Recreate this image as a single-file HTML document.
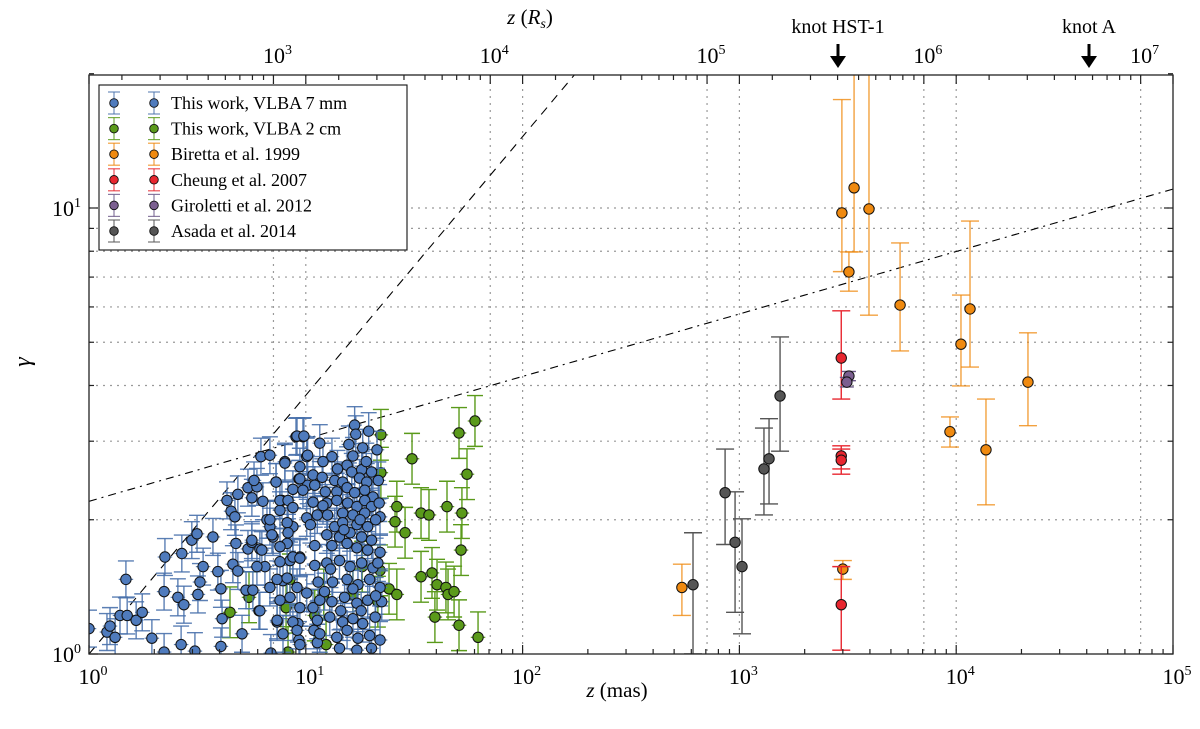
<!DOCTYPE html>
<html><head><meta charset="utf-8"><style>
html,body{margin:0;padding:0;background:#fff}
svg{display:block;font-family:"Liberation Serif",serif}
</style></head><body>
<svg id="chart" width="1200" height="729" viewBox="0 0 1200 729">
<defs><clipPath id="plotclip"><rect x="89" y="75" width="1084" height="579"/></clipPath></defs>
<g id="grid"></g>
<g id="lines" clip-path="url(#plotclip)"></g>
<g id="series" clip-path="url(#plotclip)"></g>
<rect x="89" y="75" width="1084" height="579" fill="none" stroke="#222" stroke-width="1.3"/>
<g id="axes"></g>
<text x="617" y="697" font-size="21" text-anchor="middle"><tspan font-style="italic">z</tspan> (mas)</text>
<text x="530" y="24" font-size="21" text-anchor="middle"><tspan font-style="italic">z</tspan> (<tspan font-style="italic">R</tspan><tspan font-style="italic" font-size="14" dy="4">s</tspan><tspan dy="-4">)</tspan></text>
<text x="30" y="362" font-size="24" font-style="italic" text-anchor="middle" transform="rotate(-90 30 362)">γ</text>
<g>
<text x="838" y="33" font-size="20" text-anchor="middle">knot HST-1</text>
<line x1="838" y1="44" x2="838" y2="58" stroke="#000" stroke-width="3"/>
<polygon points="830,56 846,56 838,68" fill="#000"/></g>
<g>
<text x="1089" y="33" font-size="20" text-anchor="middle">knot A</text>
<line x1="1089" y1="44" x2="1089" y2="58" stroke="#000" stroke-width="3"/>
<polygon points="1081,56 1097,56 1089,68" fill="#000"/></g>
<g id="legend"></g>
</svg>
<script>
// ---- data ----
const blueX=[1.00,1.21,1.25,1.32,1.39,1.50,1.65,1.76,1.48,1.95,2.24,2.22,2.66,2.57,2.74,2.68,2.98,3.15,3.73,3.08,3.18,3.25,3.36,2.22,3.93,4.06,4.11,4.06,4.33,4.52,4.71,4.86,4.76,4.61,4.86,5.08,5.30,5.41,5.64,5.70,6.08,6.14,6.21,6.83,5.64,5.41,5.95,5.77,6.34,6.48,6.62,6.83,7.06,7.29,7.60,8.01,7.76,7.85,7.37,6.90,9.01,9.70,9.39,9.30,10.1,10.2,8.72,8.20,8.72,9.39,8.46,9.20,9.30,10.1,10.8,10.9,11.3,
16.8,17.0,19.5,11.6,10.2,13.2,16.5,18.3,15.5,16.3,18.1,20.1,21.3,10.8,11.9,13.6,14.8,17.7,19.1,21.6,11.0,12.3,13.9,15.5,16.8,18.7,20.4,10.8,12.5,13.9,15.6,17.2,18.7,20.1,21.8,11.3,12.6,14.8,16.5,18.7,22.0,13.6,14.8,17.2,19.3,12.5,14.3,16.0,18.1,20.1,13.2,15.5,17.2,19.3,22.0,11.0,12.5,14.3,16.0,18.1,20.4,11.4,13.3,15.5,17.4,19.7,22.0,11.6,13.2,15.1,17.2,19.3,22.4,11.3,12.9,14.8,16.5,18.3,20.9,11.6,13.9,15.5,17.4,19.7,22.0,14.3,17.2,20.1,
9.11,9.80,8.01,7.29,9.39,8.72,7.60,8.28,9.70,10.1,8.72,6.83,6.98,8.20,8.28,7.60,8.72,7.60,9.39,7.37,8.20,9.11,6.83,7.60,8.46,9.39,7.37,8.72,9.11,7.85,9.39,6.14,5.95,5.64,6.27,
14.0,15.8,12.0,19.0,21.0,21.5,13.0,16.5,12.2,18.0,15.0,11.0,21.0,14.5,17.8,10.5,12.0];
const blueY=[1.14,1.12,1.155,1.09,1.22,1.22,1.19,1.24,1.47,1.085,1.65,1.38,1.05,1.34,1.29,1.68,1.80,1.86,1.83,1.015,1.36,1.45,1.57,1.01,1.53,1.40,1.20,1.04,2.21,2.09,2.03,2.28,1.77,1.59,1.535,1.11,1.39,1.72,1.78,1.39,1.25,1.72,2.77,2.79,2.24,2.36,2.37,2.45,2.20,1.57,2.00,1.93,1.83,2.43,2.10,2.70,2.21,1.46,1.18,1.005,3.07,3.07,2.63,2.47,2.77,2.39,1.93,1.77,1.65,1.65,1.62,1.17,1.075,1.37,1.27,1.13,1.06,
3.26,3.11,3.16,2.97,2.79,2.77,2.78,2.90,2.65,2.56,2.59,2.56,2.87,2.52,2.49,2.45,2.43,2.48,2.43,2.45,2.39,2.31,2.31,2.36,2.30,2.33,2.25,2.19,2.18,2.21,2.18,2.14,2.21,2.14,2.18,2.05,2.05,2.07,2.05,2.07,2.03,1.93,1.97,1.95,1.93,1.85,1.83,1.87,1.83,1.80,1.75,1.77,1.73,1.71,1.69,1.58,1.60,1.62,1.57,1.60,1.56,1.45,1.45,1.47,1.43,1.47,1.41,1.32,1.31,1.34,1.30,1.32,1.31,1.19,1.21,1.18,1.20,1.17,1.21,1.11,1.09,1.13,1.085,1.10,1.075,1.03,1.02,1.03,
3.08,3.08,2.68,2.43,2.47,2.34,2.21,2.21,2.33,2.02,2.13,2.00,1.85,1.97,1.87,1.74,1.65,1.61,1.64,1.47,1.48,1.41,1.41,1.32,1.34,1.27,1.19,1.18,1.13,1.11,1.05,1.25,1.57,1.80,1.71,
2.6,2.95,2.7,2.7,2.0,1.6,1.55,1.4,1.38,1.25,1.9,1.75,1.35,1.25,2.0,1.95,2.15];
const greenX=[22.2,22.2,30.9,60.3,50.9,55.4,52.5,26.3,25.8,28.7,34.0,37.0,44.8,52.0,34.0,38.2,40.3,44.3,45.3,48.3,39.4,50.9,62.3,24.2,26.3,22.0,18.2,21.5,16.5,12.1,11.0,12.4,8.45,8.11,5.47,4.47,8.28];
const greenY=[3.10,2.55,2.74,3.33,3.13,2.53,2.07,2.14,1.98,1.87,2.07,2.05,2.14,1.71,1.49,1.52,1.43,1.41,1.36,1.38,1.21,1.16,1.09,1.40,1.36,1.54,1.57,1.31,1.36,1.36,1.22,1.05,1.47,1.27,1.34,1.24,1.01];
const orangeX=[2970,3380,3960,3200,5510,10520,11580,21430,9360,13720,543,3000];
const orangeY=[9.75,11.1,9.95,7.19,6.06,4.95,5.94,4.07,3.15,2.87,1.41,1.55];
const orangeHi=[17.5,30,30,7.97,8.35,6.38,9.35,5.25,3.40,3.73,1.59,1.62];
const orangeLo=[7.2,7.97,5.75,6.51,4.78,3.99,4.40,3.25,2.91,2.16,1.22,1.47];
const redX=[2950,2950,2950,2950];
const redY=[4.61,2.78,2.72,1.29];
const redHi=[5.88,2.93,2.88,1.57];
const redLo=[3.73,2.60,2.53,1.02];
const purpleX=[3200,3130];
const purpleY=[4.20,4.07];
const purpleHi=[4.30,4.17];
const purpleLo=[4.10,3.97];
const grayX=[611,859,955,1028,1298,1370,1540];
const grayY=[1.43,2.30,1.78,1.57,2.60,2.74,3.79];
const grayHi=[1.87,2.88,2.31,2.01,3.21,3.37,5.14];
const grayLo=[1.0,1.76,1.24,1.11,2.05,2.17,2.85];
const xTickExp=[0,1,2,3,4,5];
const topTickExp=[3,4,5,6,7];
const yTickExp=[0,1];
const legendLabels=["This work, VLBA 7 mm","This work, VLBA 2 cm","Biretta et al. 1999","Cheung et al. 2007","Giroletti et al. 2012","Asada et al. 2014"];
const masToRs=141;

// ---- scales ----
const L=89,R=1173,T=75,B=654;
const PXD=216.8, PYD=446;
const X=v=>L+PXD*Math.log10(v);
const Y=v=>B-PYD*Math.log10(v);
const NS="http://www.w3.org/2000/svg";
function mk(tag,attrs,parent){const e=document.createElementNS(NS,tag);for(const k in attrs)e.setAttribute(k,attrs[k]);parent.appendChild(e);return e;}

const grid=document.getElementById('grid');
// horizontal grid 2..10
for(let v=2;v<=10;v++){
  const l=mk('line',{x1:L,x2:R,y1:Y(v),y2:Y(v),stroke:'#999','stroke-width':1.2,'stroke-dasharray':'2,5'},grid);
  
  
}
xTickExp.forEach(e=>{if(e>0&&e<5){const l=mk('line',{x1:X(10**e),x2:X(10**e),y1:T,y2:B,stroke:'#999','stroke-width':1.2,'stroke-dasharray':'2,5'},grid);
  
  }});
topTickExp.forEach(e=>{const x=X(10**e/masToRs);const l=mk('line',{x1:x,x2:x,y1:T,y2:B,stroke:'#999','stroke-width':1.2,'stroke-dasharray':'2,5'},grid);
  
  });

// model lines
const lines=document.getElementById('lines');
function powerLine(a,k,dash,name){let d='';for(let i=0;i<=100;i++){const lx=i*5/100;const x=10**lx;d+=(i?'L':'M')+X(x).toFixed(1)+','+Y(a*x**k).toFixed(1);}
  const p=mk('path',{d:d,fill:'none',stroke:'#000','stroke-width':1.1,'stroke-dasharray':dash},lines);
  
  }
powerLine(1.0,0.58,'9,7','parabolic-fit-line');
powerLine(2.2,0.14,'8,5,2,5','conical-fit-line');

// series
const S=document.getElementById('series');
function series(xs,ys,lo,hi,col,fill,name,capW,xfrac,op){
  const g=mk('g',{},S);
  
  
  xs.forEach((x,i)=>{
    const px=X(x),py=Y(ys[i]);const yl=Y(lo[i]),yh=Y(hi[i]);
    mk('line',{x1:px,x2:px,y1:yl,y2:yh,stroke:col,'stroke-width':1.4,opacity:op},g);
    mk('line',{x1:px-capW,x2:px+capW,y1:yl,y2:yl,stroke:col,'stroke-width':1.4,opacity:op},g);
    mk('line',{x1:px-capW,x2:px+capW,y1:yh,y2:yh,stroke:col,'stroke-width':1.4,opacity:op},g);
    if(xfrac){mk('line',{x1:X(x/xfrac),x2:X(x*xfrac),y1:py,y2:py,stroke:col,'stroke-width':1.2,opacity:op},g);}
  });
  xs.forEach((x,i)=>{
    const c=mk('circle',{cx:X(x),cy:Y(ys[i]),r:5.2,fill:fill,stroke:'#111','stroke-width':1},g);
    
    
  });
}
series(grayX,grayY,grayLo,grayHi,'#555','#555','asada-2014',9,0,1);
series(orangeX,orangeY,orangeLo,orangeHi,'#f08a10','#f08a10','biretta-1999',9,0,0.8);
series(redX,redY,redLo,redHi,'#e8262f','#e8262f','cheung-2007',9,0,1);
series(purpleX,purpleY,purpleLo,purpleHi,'#6e5a8a','#7b5f90','giroletti-2012',7,0,1);
series(greenX,greenY,greenY.map(v=>v/1.14),greenY.map(v=>v*1.14),'#5a9a1a','#5a9a1a','vlba-2cm',8,1.08,1);
series(blueX,blueY,blueY.map(v=>v/1.1),blueY.map(v=>v*1.1),'#4a72ac','#4f7bbd','vlba-7mm',8,1.08,0.9);

// axes ticks and labels
const ax=document.getElementById('axes');
function tick(x1,y1,x2,y2,name){const l=mk('line',{x1:x1,y1:y1,x2:x2,y2:y2,stroke:'#222','stroke-width':1.2},ax);
  
  }
function pow10Label(x,y,e,anchor,name){const t=mk('text',{x:x,y:y,'font-size':22,'text-anchor':anchor},ax);
  
  
  t.appendChild(document.createTextNode('10'));const s=mk('tspan',{'font-size':14,dy:-9},t);s.textContent=String(e);}
xTickExp.forEach(e=>{
  const x=X(10**e);tick(x,B,x,B-9,'x-major-tick');tick(x,T,x,T+9,'x-major-tick-top');
  pow10Label(x+4,B+30,e,'middle','x-tick-label');
  if(e<5)for(let m=2;m<10;m++){const xm=X(m*10**e);tick(xm,B,xm,B-5,'x-minor-tick');}
});
topTickExp.forEach(e=>{
  const x=X(10**e/masToRs);tick(x,T,x,T+9,'top-major-tick');
  pow10Label(x+4,T-12,e,'middle','top-tick-label');
  for(let m=2;m<10;m++){const v=m*10**e/masToRs;if(v<=1e5)tick(X(v),T,X(v),T+5,'top-minor-tick');}
  if(e===3)for(let m=2;m<10;m++){const v=m*100/masToRs;if(v>=1)tick(X(v),T,X(v),T+5,'top-minor-tick');}
});
yTickExp.forEach(e=>{
  const y=Y(10**e);tick(L,y,L+9,y,'y-major-tick');tick(R,y,R-9,y,'y-major-tick-right');
  pow10Label(L-8,y+8,e,'end','y-tick-label');
});
for(let m=2;m<=20;m++){if(m===10)continue;const v=m<10?m:m;if(m>10&&m%10!==0)continue;const y=Y(v);tick(L,y,L+5,y,'y-minor-tick');tick(R,y,R-5,y,'y-minor-tick-right');}

// legend
const lg=document.getElementById('legend');
const box=mk('rect',{x:99,y:85,width:308,height:165,fill:'#fff',stroke:'#111','stroke-width':1.1},lg);


const lcols=['#4a72ac','#5a9a1a','#f08a10','#e8262f','#6e5a8a','#555'];
const lfill=['#4f7bbd','#5a9a1a','#f08a10','#e8262f','#7b5f90','#555'];
legendLabels.forEach((lab,i)=>{
  const y=103+i*25.6;
  const g=mk('g',{},lg);
  
  
  [114,154].forEach(x=>{
    mk('line',{x1:x,x2:x,y1:y-11,y2:y+11,stroke:lcols[i],'stroke-width':1.2,opacity:0.8},g);
    mk('line',{x1:x-6,x2:x+6,y1:y-11,y2:y-11,stroke:lcols[i],'stroke-width':1.2,opacity:0.8},g);
    mk('line',{x1:x-6,x2:x+6,y1:y+11,y2:y+11,stroke:lcols[i],'stroke-width':1.2,opacity:0.8},g);
    mk('circle',{cx:x,cy:y,r:4.3,fill:lfill[i],stroke:'#111','stroke-width':0.9},g);
  });
  const t=mk('text',{x:171,y:y+6,'font-size':18},g);t.textContent=lab;
});
</script>
</body></html>
